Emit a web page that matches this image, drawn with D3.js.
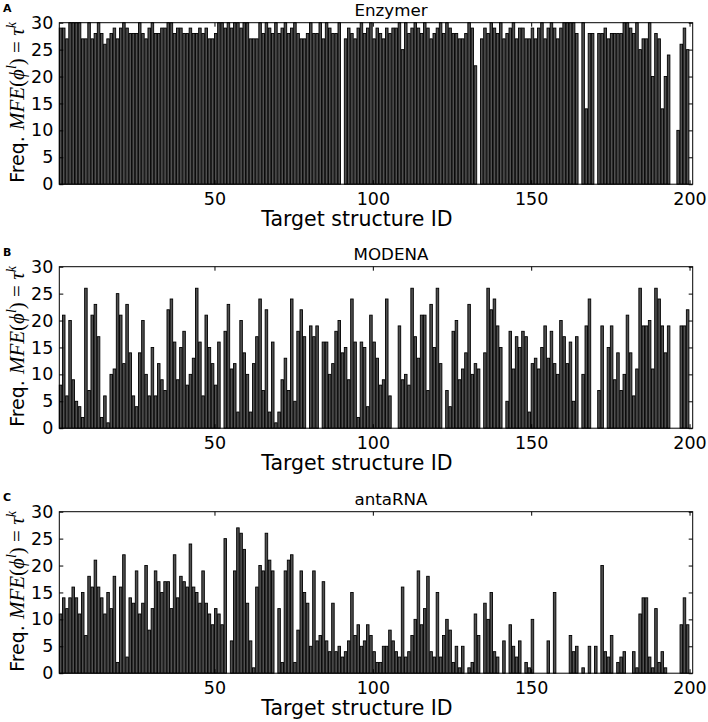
<!DOCTYPE html>
<html>
<head>
<meta charset="utf-8">
<script src="https://cdn.jsdelivr.net/npm/d3@7"></script>
<style>
  body { margin: 0; background: #fff; }
  svg { display: block; }
  text { font-family: "DejaVu Sans", sans-serif; }
</style>
</head>
<body>
<svg width="708" height="722"></svg>
<script>
// frequency of designs whose MFE structure hits the target, per target ID (1..199)
var enzymer = [
  29,29,27,30,30,30,30,27,27,30, 27,28,30,28,26,27,28,29,27,29,
  30,29,28,28,28,30,28,27,29,30, 28,28,29,29,30,30,28,29,
  29,28,28,29,28,28,29,28,29,27, 27,28,30,30,29,30,29,30,30,29,
  30,30,27,27,27,30,28,30,29,28, 30,28,29,30,28,29,30,28,27,27,
  28,30,28,28,30,27,30,29,28,28, 30,0,
  27,29,28,27,29,30,28,29,30,27, 29,28,27,29,28,29,29,30,25,30,
  28,29,30,29,28,30,29,27,28,29, 30,28,30,29,28,28,27,27,28,30,
  29,22,0,27,29,28,30,29,28,30, 27,28,29,30,27,29,
  29,27,27,29,27,29,30,27,29,30, 29,27,29,30,30,30,30,28,0,30,
  14,28,28,0,28,28,29,27,28,28, 28,28,30,30,29,28,30,25,27,27,
  30,20,28,27,14,20,24,0,0,10, 26,29,25
];
var modena = [
  8,21,6,20,9,5,4,2,26,7, 21,23,17,2,6,1,10,11,25,21,
  12,23,14,6,4,14,20,10,6,15, 6,12,9,7,22,24,16,9,
  15,18,8,10,13,26,16,6,21,15, 12,8,16,0,18,23,11,12,3,20,
  14,10,3,12,17,24,7,22,3,16, 1,3,9,13,7,24,5,18,22,17,
  0,19,17,19,0,16,16,10,12,18, 20,14,15,9,
  24,16,2,16,15,4,21,16,13,8, 9,24,6,0,0,19,9,10,8,26,
  17,13,21,21,7,23,15,26,12,0, 7,4,18,20,9,11,14,23,10,12,
  11,0,14,26,22,24,19,15,0,5, 18,11,17,15,18,17,3,12,13,11,
  15,19,13,18,12,10,20,17,12,16, 5,17,0,10,19,24,0,0,7,19,
  0,15,19,9,14,7,10,21,14,6, 11,26,19,19,20,11,26,24,19,14,
  19,0,0,0,19,19,22
];
var antarna = [
  11,14,12,14,16,14,11,15,7,18, 16,21,16,14,11,15,12,18,2,16,
  22,3,14,13,19,11,13,20,8,12, 19,17,15,17,17,
  12,22,14,18,17,16,24,16,15,13, 19,13,11,9,12,11,9,25,0,6,
  19,27,26,23,13,6,1,16,20,19, 26,21,19,0,12,2,19,21,22,2,
  8,19,15,13,5,19,6,7,17,6, 4,13,4,5,3,4,6,
  15,7,9,5,6,9,7,4,2,2, 5,5,8,6,4,3,16,3,4,7,
  10,19,9,12,18,4,3,15,3,7, 10,8,2,5,1,5,0,1,2,11,
  7,0,13,10,15,4,3,0,6,0, 9,5,3,6,
  0,2,1,10,0,0,0,0,6,0, 15,0,0,0,0,7,4,5,0,1,
  0,5,0,5,0,20,4,3,7,0, 2,3,4,0,0,4,1,11,14,14,
  3,1,12,2,4,1,0,0,0,0, 9,14,9
];

var panels = [
  {letter: "A", title: "Enzymer", values: enzymer, top: 22.7},
  {letter: "B", title: "MODENA",  values: modena,  top: 266.7},
  {letter: "C", title: "antaRNA", values: antarna, top: 511.7}
];
var xTicks = [50, 100, 150, 200];
var yTicks = [0, 5, 10, 15, 20, 25, 30];

var svg = d3.select("svg");
var left = 59.3, right = 692.7, plotH = 161.5;
var barW = 0.8;

var x = d3.scaleLinear().domain([1, 201]).range([left, right]);

panels.forEach(function(p) {
  var y = d3.scaleLinear().domain([0, 30]).range([p.top + plotH, p.top]);
  var g = svg.append("g");
  var data = p.values.map(function(v, i) { return {id: i + 1, v: v}; });

  g.selectAll("rect.bar").data(data.filter(function(d) { return d.v > 0; }))
    .enter().append("rect")
    .attr("class", "bar")
    .attr("x", function(d) { return x(d.id); })
    .attr("y", function(d) { return y(d.v); })
    .attr("width", x(1 + barW) - x(1))
    .attr("height", function(d) { return y(0) - y(d.v); })
    .style("fill", "#505050")
    .style("stroke", "#000")
    .style("stroke-width", 0.9);

  // inward ticks on all four sides
  var axB = g.append("g").attr("transform", "translate(0," + y(0) + ")")
    .call(d3.axisBottom(x).tickValues(xTicks).tickSize(-4).tickPadding(8));
  var axT = g.append("g").attr("transform", "translate(0," + p.top + ")")
    .call(d3.axisTop(x).tickValues(xTicks).tickSize(-4).tickFormat(""));
  var axL = g.append("g").attr("transform", "translate(" + left + ",0)")
    .call(d3.axisLeft(y).tickValues(yTicks).tickSize(-4).tickPadding(6));
  var axR = g.append("g").attr("transform", "translate(" + right + ",0)")
    .call(d3.axisRight(y).tickValues(yTicks).tickSize(-4).tickFormat(""));
  [axB, axT, axL, axR].forEach(function(a) {
    a.select(".domain").remove();
    a.selectAll("line").style("stroke", "#000");
    a.selectAll("text").style("font-family", "DejaVu Sans").style("font-size", "17.5px").style("fill", "#000");
  });

  g.append("rect")
    .attr("x", left).attr("y", p.top)
    .attr("width", right - left).attr("height", plotH)
    .style("fill", "none").style("stroke", "#000").style("stroke-width", 1);

  g.append("text")
    .attr("x", 391).attr("y", p.top - 7)
    .attr("text-anchor", "middle")
    .style("font-size", "16.7px")
    .text(p.title);

  g.append("text")
    .attr("x", 357).attr("y", y(0) + 42)
    .attr("text-anchor", "middle")
    .style("font-size", "20.5px")
    .text("Target structure ID");

  g.append("text")
    .attr("x", 3).attr("y", p.top - 10.5)
    .style("font-size", "11px").style("font-weight", "bold")
    .text(p.letter);

  var yl = g.append("text")
    .attr("transform", "translate(24," + (p.top + plotH / 2 - 1) + ") rotate(-90)")
    .attr("text-anchor", "middle")
    .style("font-size", "19px");
  yl.append("tspan").text("Freq. ");
  var serif = "font-family:'Liberation Serif',serif;font-size:21px";
  var m = serif + ";font-style:italic";
  yl.append("tspan").attr("style", m).text("MFE");
  yl.append("tspan").attr("style", serif).text("(");
  yl.append("tspan").attr("style", m).text("\u03D5");
  yl.append("tspan").attr("style", m + ";font-size:14px").attr("dy", -8).text("l");
  yl.append("tspan").attr("style", serif).attr("dy", 8).text(") = ");
  yl.append("tspan").attr("style", m).text("\u03C4");
  yl.append("tspan").attr("style", m + ";font-size:14px").attr("dy", -8).text("k");
});
</script>
</body>
</html>
